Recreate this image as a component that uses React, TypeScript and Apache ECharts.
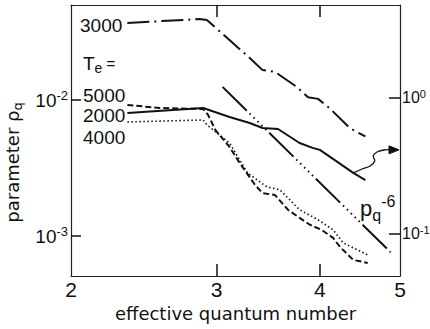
import { useEffect, useRef } from "react";
import * as echarts from "echarts";

// ---- axes (values) ----
const xRange = [2, 5];
const xTickValues = [2, 3, 4, 5];
const xInnerTicks = [3, 4];
const leftRange = [5.08e-4, 0.05];
const leftTickValues = [0.001, 0.01];
const rightRange = [0.049, 4.83];
const rightTickValues = [0.1, 1];

// ---- series: effective quantum number vs parameter rho_q ----
const n3000 = [2.34, 2.86, 2.92, 3.29, 3.41, 3.53, 3.75, 3.87, 3.98, 4.11, 4.35, 4.44, 4.54];
const rho3000 = [0.0369, 0.0394, 0.0388, 0.0204, 0.0166, 0.0161, 0.0125, 0.0105, 0.0102, 0.0087, 0.0062, 0.0058, 0.0054];

const n2000 = [2.34, 2.89, 3.11, 3.29, 3.41, 3.56, 3.78, 3.92, 4.0, 4.39, 4.54];
const rho2000 = [0.00804, 0.00874, 0.0075, 0.00678, 0.00623, 0.00612, 0.00483, 0.00445, 0.0043, 0.00291, 0.00258];

const n5000 = [2.34, 2.56, 2.89, 2.93, 2.99, 3.11, 3.2, 3.34, 3.41, 3.53, 3.66, 3.78, 3.89, 4.02, 4.15, 4.23, 4.39, 4.57];
const rho5000 = [0.0092, 0.00874, 0.00859, 0.00777, 0.00602, 0.00452, 0.00344, 0.00237, 0.00207, 0.002, 0.00156, 0.00136, 0.00121, 0.00111, 0.000968, 0.000832, 0.000667, 0.000634];

const n4000 = [2.34, 2.89, 2.92, 3.11, 3.27, 3.45, 3.58, 3.78, 3.97, 4.15, 4.27, 4.57];
const rho4000 = [0.0069, 0.00713, 0.00656, 0.00483, 0.00291, 0.0023, 0.00218, 0.00156, 0.00133, 0.00111, 0.000889, 0.000726];

const nPow = [3.05, 4.87];
const rhoPow = [0.0125, 0.00076];

// curly arrow annotation (data space, left axis)
const arrowN = [4.39, 4.5, 4.6, 4.66, 4.64, 4.69, 4.8, 4.89];
const arrowRho = [0.00291, 0.00311, 0.00327, 0.00356, 0.00388, 0.00415, 0.0043, 0.0043];

const lg = Math.log10;
const INK = "#111";
const NUM = "'Liberation Sans', Arial, sans-serif";
const WORD = "'DejaVu Sans', sans-serif";

const pts = (ns: number[], rs: number[]) => ns.map((n, i) => [lg(n), lg(rs[i])]);

const lineSeries = (name: string, data: number[][], type: any, width: number) => ({
  name,
  type: "line",
  data,
  symbol: "none",
  showSymbol: false,
  silent: true,
  lineStyle: { color: INK, width, type, cap: "butt" },
});

const powLabel = (v: number) => `{b|10}{s|${Math.round(v)}}`;
const powRich = (b: number, s: number) => ({
  b: { fontFamily: NUM, fontSize: b, color: INK, lineHeight: b + 3 },
  s: { fontFamily: NUM, fontSize: s, color: INK, lineHeight: s, verticalAlign: "top" },
});

const textEl = (text: string, x: number, y: number, size: number, rich?: any) => ({
  type: "text",
  x,
  y,
  silent: true,
  style: {
    text,
    font: `${size}px ${NUM}`,
    fontFamily: NUM,
    fontSize: size,
    fill: INK,
    align: "left",
    textAlign: "left",
    verticalAlign: "middle",
    textVerticalAlign: "middle",
    rich,
  },
});

export default function App() {
  const ref = useRef<HTMLDivElement>(null);
  useEffect(() => {
    const chart = echarts.init(ref.current!, null, { renderer: "svg" });
    const axisLine = { show: true, onZero: false, lineStyle: { color: "#222", width: 1.2 } };
    const tickStyle = { color: INK, width: 1.5 };
    const baseGraphics: any[] = [
      textEl("3000", 80, 25, 19),
      textEl("{t|T}{e|e}{q| =}", 83, 63, 19, {
        t: { fontFamily: NUM, fontSize: 19, fill: INK, lineHeight: 24 },
        e: { fontFamily: NUM, fontSize: 14, fill: INK, lineHeight: 14, verticalAlign: "bottom" },
        q: { fontFamily: NUM, fontSize: 15, fill: INK, lineHeight: 24 },
      }),
      textEl("5000", 83, 95, 19),
      textEl("2000", 83, 115, 19),
      textEl("4000", 83, 137, 19),
      textEl("{p|p}{q|q}{s|-6}", 360, 208, 20, {
        p: { fontFamily: NUM, fontSize: 22, fill: INK, lineHeight: 30 },
        q: { fontFamily: NUM, fontSize: 16, fill: INK, lineHeight: 16, verticalAlign: "bottom" },
        s: { fontFamily: NUM, fontSize: 16, fill: INK, lineHeight: 16, verticalAlign: "top" },
      }),
    ];
    const option: any = {
      animation: false,
      backgroundColor: "#fff",
      grid: { left: 71, right: 30, top: 5, bottom: 53, containLabel: false, outerBoundsMode: "none" },
      xAxis: [
        {
          type: "value",
          position: "bottom",
          min: lg(xRange[0]),
          max: lg(xRange[1]),
          axisLine,
          axisTick: { show: true, inside: true, length: 12, customValues: xInnerTicks.map(lg), lineStyle: tickStyle },
          axisLabel: {
            customValues: xTickValues.map(lg),
            formatter: (v: number) => String(Math.round(Math.pow(10, v))),
            fontFamily: NUM,
            fontSize: 21,
            color: INK,
            margin: 3,
          },
          splitLine: { show: false },
          name: "effective quantum number",
          nameLocation: "middle",
          nameGap: 28,
          nameTextStyle: { fontFamily: WORD, fontSize: 18, color: INK },
        },
        {
          type: "value",
          position: "top",
          min: lg(xRange[0]),
          max: lg(xRange[1]),
          axisLine,
          axisTick: { show: true, inside: true, length: 12, customValues: xInnerTicks.map(lg), lineStyle: tickStyle },
          axisLabel: { show: false },
          splitLine: { show: false },
        },
      ],
      yAxis: [
        {
          type: "value",
          position: "left",
          min: lg(leftRange[0]),
          max: lg(leftRange[1]),
          axisLine,
          axisTick: { show: true, inside: true, length: 10, customValues: leftTickValues.map(lg), lineStyle: tickStyle },
          axisLabel: {
            customValues: leftTickValues.map(lg),
            formatter: powLabel,
            rich: powRich(19, 13),
            margin: 3,
          },
          splitLine: { show: false },
          name: "parameter ρ{q|q}",
          nameLocation: "middle",
          nameGap: 44,
          nameTextStyle: {
            fontFamily: WORD,
            fontSize: 18,
            color: INK,
            lineHeight: 24,
            padding: [0, 44, 0, 0],
            rich: { q: { fontFamily: WORD, fontSize: 13, color: INK, lineHeight: 13, verticalAlign: "bottom" } },
          },
        },
        {
          type: "value",
          position: "right",
          min: lg(rightRange[0]),
          max: lg(rightRange[1]),
          axisLine,
          axisTick: { show: true, inside: true, length: 11, customValues: rightTickValues.map(lg), lineStyle: tickStyle },
          axisLabel: {
            customValues: rightTickValues.map(lg),
            formatter: powLabel,
            rich: powRich(16, 11),
            margin: 2,
          },
          splitLine: { show: false },
        },
      ],
      series: [
        lineSeries("3000", pts(n3000, rho3000), [22, 5, 2, 5], 2),
        lineSeries("2000", pts(n2000, rho2000), "solid", 2),
        lineSeries("5000", pts(n5000, rho5000), [6, 3], 2),
        lineSeries("4000", pts(n4000, rho4000), [1.5, 2.5], 1.6),
        lineSeries("pq^-6", pts(nPow, rhoPow), [34, 4, 1.5, 4, 1.5, 4, 1.5, 4, 1.5, 4, 1.5, 4], 2),
      ],
      graphic: baseGraphics,
    };
    chart.setOption(option);
    const ap = arrowN.map((n, i) => chart.convertToPixel({ gridIndex: 0 }, [lg(n), lg(arrowRho[i])]) as number[]);
    const tip = ap[ap.length - 1];
    chart.setOption({
      graphic: [
        ...baseGraphics,
        {
          type: "polyline",
          silent: true,
          shape: { points: ap, smooth: 0.4 },
          style: { stroke: INK, lineWidth: 1.3, fill: "none" },
        },
        {
          type: "polygon",
          silent: true,
          shape: { points: [[tip[0] - 3, tip[1] - 4], [tip[0] - 3, tip[1] + 4], [tip[0] + 7, tip[1]]] },
          style: { fill: INK, stroke: INK, lineWidth: 1 },
        },
      ],
    });
    return () => chart.dispose();
  }, []);
  return <div ref={ref} style={{ position: "fixed", left: 0, top: 0, width: 430, height: 329 }} />;
}
